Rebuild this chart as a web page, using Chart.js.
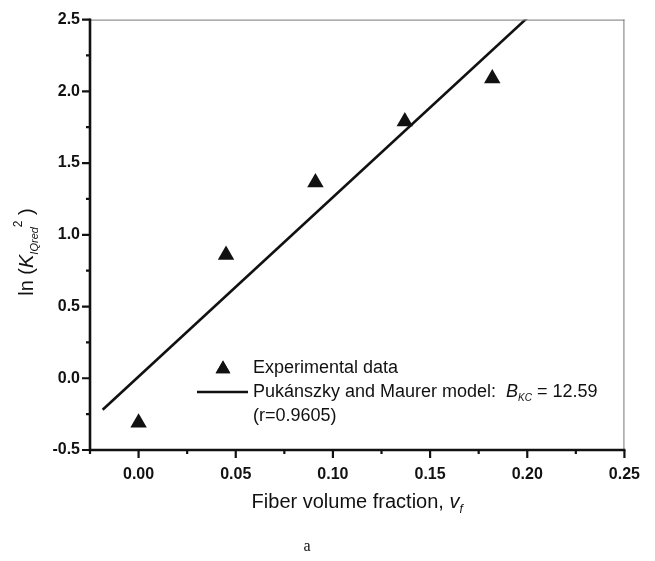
<!DOCTYPE html>
<html>
<head>
<meta charset="utf-8">
<script src="https://cdn.jsdelivr.net/npm/chart.js@4.4.1/dist/chart.umd.min.js"></script>
<style>
  html, body { margin: 0; padding: 0; background: #fff; }
  canvas { display: block; }
</style>
</head>
<body>
<canvas id="chart" width="655" height="561"></canvas>
<script>
// values
const fractions = [0.0, 0.045, 0.091, 0.137, 0.182];
const lnK = [-0.31, 0.86, 1.365, 1.79, 2.09];
// fitted model line (ends)
const fitX = [-0.0185, 0.2];
const fitY = [-0.219, 2.512];
const xTicks = [0, 0.05, 0.1, 0.15, 0.2, 0.25];
const yTicks = [-0.5, 0, 0.5, 1, 1.5, 2, 2.5];

const SANS = "'Liberation Sans', Arial, sans-serif";
const INK = '#111';

function drawRuns(ctx, runs, x, y) {
  // runs: [text, font, dy]
  let cx = x;
  runs.forEach(([t, f, dy]) => {
    ctx.font = f;
    ctx.fillText(t, cx, y + (dy || 0));
    cx += ctx.measureText(t).width;
  });
  return cx;
}
function runsWidth(ctx, runs) {
  let w = 0;
  runs.forEach(([t, f]) => { ctx.font = f; w += ctx.measureText(t).width; });
  return w;
}

const framePlugin = {
  id: 'frame',
  afterDraw(chart) {
    const { ctx, chartArea: a, scales } = chart;
    const xs = scales.x, ys = scales.y;
    ctx.save();
    // thin top / right frame
    ctx.strokeStyle = '#777';
    ctx.lineWidth = 1;
    ctx.beginPath();
    ctx.moveTo(a.left, a.top + 0.5); ctx.lineTo(a.right, a.top + 0.5);
    ctx.moveTo(a.right - 0.5, a.top); ctx.lineTo(a.right - 0.5, a.bottom);
    ctx.stroke();
    // heavy left / bottom axes
    ctx.strokeStyle = INK;
    ctx.lineWidth = 2.6;
    ctx.beginPath();
    ctx.moveTo(a.left, a.top - 1); ctx.lineTo(a.left, a.bottom + 1.3);
    ctx.moveTo(a.left - 1.3, a.bottom); ctx.lineTo(a.right + 1, a.bottom);
    ctx.stroke();
    // ticks
    ctx.lineWidth = 2.2;
    ctx.beginPath();
    xTicks.forEach(v => {
      const px = xs.getPixelForValue(v);
      ctx.moveTo(px, a.bottom); ctx.lineTo(px, a.bottom + 8);
      const pm = xs.getPixelForValue(v - 0.025);
      ctx.moveTo(pm, a.bottom); ctx.lineTo(pm, a.bottom + 4);
    });
    yTicks.forEach((v, i) => {
      const py = ys.getPixelForValue(v);
      ctx.moveTo(a.left, py); ctx.lineTo(a.left - 8, py);
      if (i > 0) {
        const pm = ys.getPixelForValue(v - 0.25);
        ctx.moveTo(a.left, pm); ctx.lineTo(a.left - 4, pm);
      }
    });
    ctx.stroke();

    ctx.fillStyle = INK;
    ctx.textBaseline = 'middle';
    // x axis title
    const xr = [
      ['Fiber volume fraction, ', `20px ${SANS}`, 0],
      ['v', `italic 20px ${SANS}`, 0],
      ['f', `italic 12px ${SANS}`, 8]
    ];
    const cxm = (a.left + a.right) / 2;
    drawRuns(ctx, xr, cxm - runsWidth(ctx, xr) / 2, 502);

    // y axis title
    const yr = [
      ['ln (', `20px ${SANS}`, 0],
      ['K', `italic 20px ${SANS}`, 0],
      ['IQred', `italic 11px ${SANS}`, 8],
      ['2', `12px ${SANS}`, -8],
      [' )', `20px ${SANS}`, 0]
    ];
    ctx.save();
    ctx.translate(27, 252);
    ctx.rotate(-Math.PI / 2);
    drawRuns(ctx, yr, -runsWidth(ctx, yr) / 2, 0);
    ctx.restore();

    // legend
    const lf = `18px ${SANS}`;
    Chart.helpers.drawPoint(ctx, { pointStyle: 'triangle', radius: 8.5, borderWidth: 0 }, 223, 369);
    ctx.fill();
    ctx.font = lf;
    ctx.fillText('Experimental data', 253, 368);
    ctx.lineWidth = 2.6;
    ctx.beginPath();
    ctx.moveTo(197, 392); ctx.lineTo(248, 392);
    ctx.stroke();
    drawRuns(ctx, [
      ['Pukánszky and Maurer model:  ', lf, 0],
      ['B', `italic 18px ${SANS}`, 0],
      ['KC', `italic 10px ${SANS}`, 6],
      [' = 12.59', lf, 0]
    ], 253, 392);
    ctx.font = lf;
    ctx.fillText('(r=0.9605)', 253, 416);

    // panel label
    ctx.font = "16px 'Liberation Serif', 'Times New Roman', serif";
    ctx.textAlign = 'center';
    ctx.fillText('a', 307, 547);
    ctx.restore();
  }
};

new Chart(document.getElementById('chart'), {
  type: 'scatter',
  data: {
    datasets: [
      {
        label: 'Experimental data',
        data: fractions.map((x, i) => ({ x: x, y: lnK[i] })),
        pointStyle: 'triangle',
        pointRadius: 9.5,
        backgroundColor: INK,
        borderColor: INK,
        borderWidth: 0
      },
      {
        label: 'Pukánszky and Maurer model',
        type: 'line',
        data: fitX.map((x, i) => ({ x: x, y: fitY[i] })),
        borderColor: INK,
        borderWidth: 2.6,
        pointRadius: 0,
        fill: false
      }
    ]
  },
  options: {
    responsive: false,
    animation: false,
    layout: { padding: { top: 15, right: 28, left: 0, bottom: 0 } },
    plugins: { legend: { display: false }, tooltip: { enabled: false } },
    scales: {
      x: {
        type: 'linear',
        min: -0.025,
        max: 0.25,
        afterFit: s => { s.height = 111; },
        afterBuildTicks: s => { s.ticks = xTicks.map(v => ({ value: v })); },
        grid: { display: false, drawTicks: false },
        border: { display: false },
        ticks: {
          color: INK,
          padding: 15,
          maxRotation: 0,
          font: { family: SANS, size: 16, weight: 'bold' },
          callback: v => v.toFixed(2)
        }
      },
      y: {
        type: 'linear',
        min: -0.5,
        max: 2.5,
        afterFit: s => { s.width = 90; },
        afterBuildTicks: s => { s.ticks = yTicks.map(v => ({ value: v })); },
        grid: { display: false, drawTicks: false },
        border: { display: false },
        ticks: {
          color: INK,
          padding: 10,
          font: { family: SANS, size: 16, weight: 'bold' },
          callback: v => v.toFixed(1)
        }
      }
    }
  },
  plugins: [framePlugin]
});
</script>
</body>
</html>
